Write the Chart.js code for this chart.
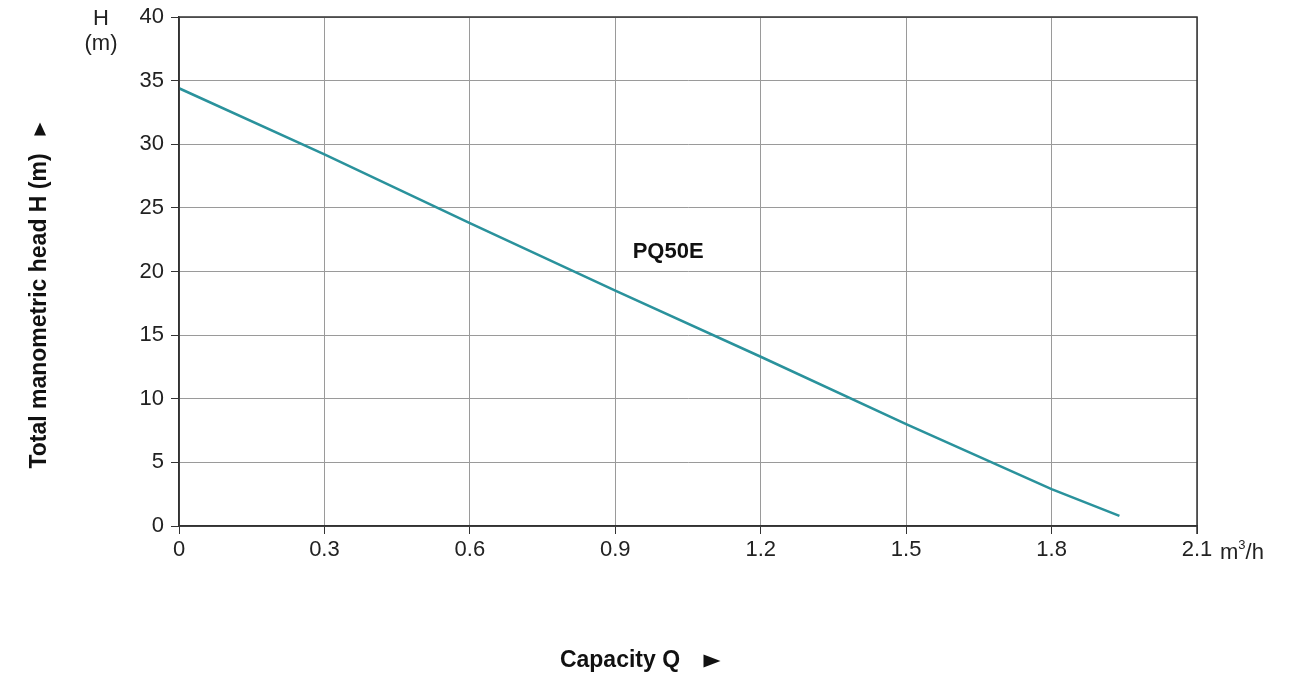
<!DOCTYPE html>
<html>
<head>
<meta charset="utf-8">
<script src="https://cdn.jsdelivr.net/npm/chart.js@4.4.1/dist/chart.umd.min.js"></script>
<style>
  html, body { margin: 0; padding: 0; background: #ffffff; }
  #wrap { width: 1299px; height: 676px; position: relative; }
</style>
</head>
<body>
<div id="wrap"><canvas id="c"></canvas></div>
<script>
// Pump curve PQ50E: capacity (m³/h) vs total manometric head (m)
const capacity = [0, 0.3, 0.6, 0.9, 1.2, 1.5, 1.8, 1.94];
const head = [34.4, 29.2, 23.8, 18.5, 13.3, 8.0, 2.9, 0.8];
const xTicks = [0, 0.3, 0.6, 0.9, 1.2, 1.5, 1.8, 2.1];
const yTicks = [0, 5, 10, 15, 20, 25, 30, 35, 40];
const seriesName = 'PQ50E';
const labelAt = { x: 1.009, y: 21.5 };

const FONT = '"Liberation Sans", Arial, sans-serif';

// filled right-pointing arrow head
function arrow(ctx, cx, cy, w, h) {
  ctx.beginPath();
  ctx.moveTo(cx - w / 2, cy - h / 2);
  ctx.lineTo(cx + w / 2, cy);
  ctx.lineTo(cx - w / 2, cy + h / 2);
  ctx.closePath();
  ctx.fill();
}

const annotations = {
  id: 'annotations',
  afterDraw(chart) {
    const { ctx, scales: { x, y } } = chart;
    ctx.save();
    ctx.fillStyle = '#111';
    // series name
    ctx.font = 'bold 22px ' + FONT;
    ctx.textAlign = 'center';
    ctx.textBaseline = 'middle';
    ctx.fillText(seriesName, x.getPixelForValue(labelAt.x), y.getPixelForValue(labelAt.y));
    // unit labels
    ctx.font = '22px ' + FONT;
    ctx.fillStyle = '#222';
    ctx.fillText('H', 101, 19);
    ctx.fillText('(m)', 101, 44);
    const xr = x.getPixelForValue(2.1);
    ctx.textAlign = 'left';
    ctx.fillText('m', xr + 23, 553);
    const mw = ctx.measureText('m').width;
    ctx.font = '13px ' + FONT;
    ctx.fillText('3', xr + 23 + mw, 545);
    const sw = ctx.measureText('3').width;
    ctx.font = '22px ' + FONT;
    ctx.fillText('/h', xr + 23 + mw + sw, 553);
    // x title
    ctx.fillStyle = '#111';
    ctx.font = 'bold 23px ' + FONT;
    ctx.textAlign = 'center';
    ctx.fillText('Capacity Q', 620, 661);
    arrow(ctx, 712, 661, 17, 13);
    // y title
    ctx.translate(40, 311);
    ctx.rotate(-Math.PI / 2);
    ctx.fillText('Total manometric head H (m)', 0, 0);
    arrow(ctx, 182, 0, 13, 12);
    ctx.restore();
  }
};

new Chart(document.getElementById('c'), {
  type: 'line',
  data: {
    datasets: [{
      label: seriesName,
      data: capacity.map((q, i) => ({ x: q, y: head[i] })),
      borderColor: '#2a929c',
      borderWidth: 2.5,
      pointRadius: 0,
      tension: 0,
      fill: false
    }]
  },
  options: {
    responsive: true,
    maintainAspectRatio: false,
    animation: false,
    layout: { padding: { top: 17, right: 102, left: 0, bottom: 0 } },
    plugins: { legend: { display: false }, tooltip: { enabled: false } },
    scales: {
      x: {
        type: 'linear',
        min: 0, max: 2.1,
        afterBuildTicks(scale) { scale.ticks = xTicks.map(v => ({ value: v })); },
        afterFit(scale) { scale.height = 150; scale.paddingLeft = 0; scale.paddingRight = 0; },
        ticks: {
          callback: v => String(v),
          font: { family: FONT, size: 22 },
          color: '#222',
          maxRotation: 0,
          padding: 3
        },
        grid: { color: '#9a9a9a', lineWidth: 1, tickLength: 8, tickColor: '#333' },
        border: { color: '#333', width: 1.5 }
      },
      y: {
        type: 'linear',
        min: 0, max: 40,
        afterBuildTicks(scale) { scale.ticks = yTicks.map(v => ({ value: v })); },
        afterFit(scale) { scale.width = 179; scale.paddingTop = 0; scale.paddingBottom = 0; },
        ticks: {
          font: { family: FONT, size: 22 },
          color: '#222',
          padding: 7
        },
        grid: { color: '#9a9a9a', lineWidth: 1, tickLength: 8, tickColor: '#333' },
        border: { color: '#333', width: 1.5 }
      }
    }
  },
  plugins: [annotations, {
    id: 'frame',
    afterDatasetsDraw(chart) {
      const { ctx, chartArea: a } = chart;
      ctx.save();
      ctx.strokeStyle = '#333';
      ctx.lineWidth = 1.5;
      ctx.strokeRect(a.left, a.top, a.right - a.left, a.bottom - a.top);
      // tick mark at the far right end of the x axis
      ctx.beginPath();
      ctx.moveTo(a.right, a.bottom);
      ctx.lineTo(a.right, a.bottom + 8);
      ctx.stroke();
      ctx.restore();
    }
  }]
});
</script>
</body>
</html>
